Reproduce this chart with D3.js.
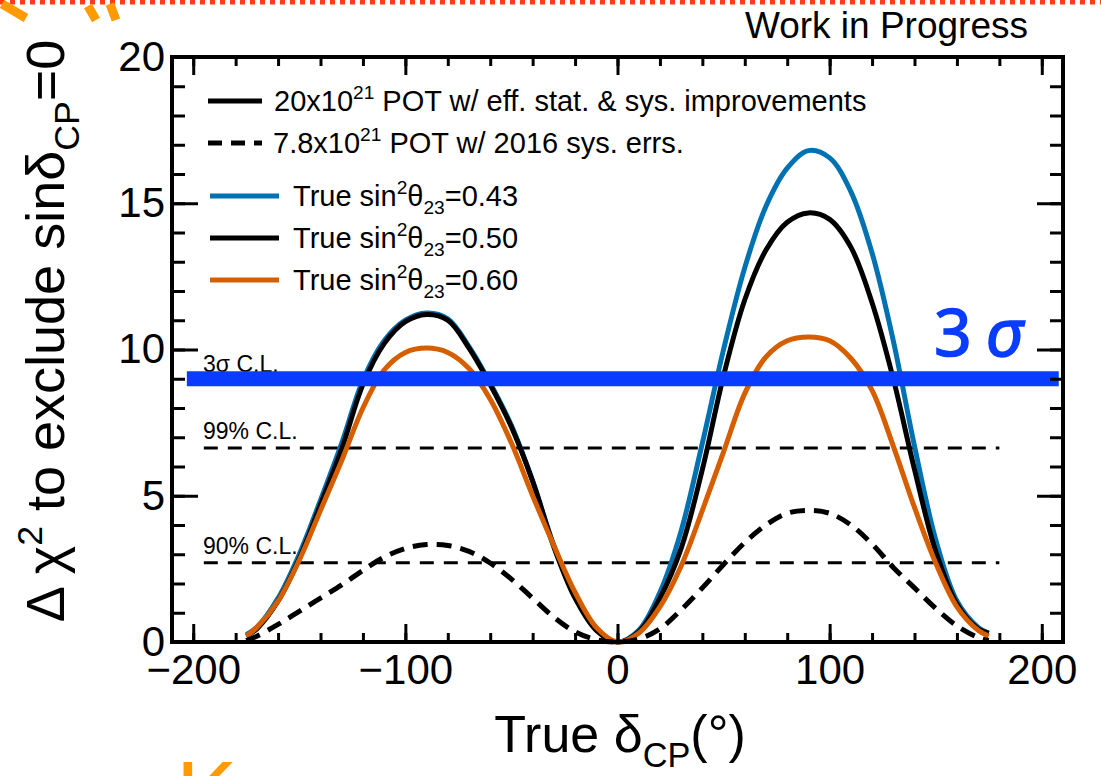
<!DOCTYPE html>
<html>
<head>
<meta charset="utf-8">
<script src="https://cdn.jsdelivr.net/npm/d3@7"></script>
<style>
  body { margin: 0; background: #fff; }
  svg { display: block; font-family: "Liberation Sans", Arial, Helvetica, sans-serif; }
</style>
</head>
<body>
<div id="chart"></div>
<script>
  var svgWidth = 1101;
  var svgHeight = 776;

  var deltaCP = [-175, -170, -160, -150, -140, -130, -120, -110, -100, -90, -80, -70, -60, -50, -40, -30, -20, -10,
    0, 10, 20, 30, 40, 50, 60, 70, 80, 90, 100, 110, 120, 130, 140, 150, 160, 170, 175];

  // 20x10^21 POT w/ improvements
  var chi2_043 = [0.25, 0.5, 1.5, 3.0, 4.85, 6.8, 8.95, 10.3, 11.0, 11.25, 11.05, 10.1, 8.85, 7.4, 5.5, 3.3, 1.55, 0.45,
    0, 0.4, 1.7, 3.8, 6.8, 10.0, 12.8, 14.9, 16.2, 16.8, 16.55, 15.4, 13.3, 10.3, 6.7, 3.5, 1.4, 0.5, 0.3];
  var chi2_050 = [0.2, 0.45, 1.4, 2.85, 4.7, 6.6, 8.8, 10.2, 10.95, 11.2, 11.0, 10.05, 8.8, 7.35, 5.5, 3.25, 1.5, 0.4,
    0, 0.35, 1.5, 3.2, 5.9, 9.1, 11.7, 13.4, 14.35, 14.67, 14.45, 13.5, 11.6, 9.0, 5.9, 3.1, 1.3, 0.45, 0.3];
  var chi2_060 = [0.2, 0.5, 1.4, 2.8, 4.5, 6.2, 8.0, 9.3, 9.9, 10.05, 9.9, 9.35, 8.3, 6.8, 5.0, 3.3, 1.7, 0.5,
    0, 0.3, 1.2, 2.6, 4.5, 6.5, 8.5, 9.75, 10.3, 10.43, 10.3, 9.7, 8.6, 6.7, 4.6, 2.7, 1.2, 0.4, 0.2];
  // 7.8x10^21 POT w/ 2016 sys. errs.
  var chi2_2016 = [0.05, 0.2, 0.6, 1.05, 1.5, 1.95, 2.45, 2.9, 3.2, 3.33, 3.3, 3.1, 2.7, 2.15, 1.5, 0.85, 0.35, 0.08,
    0, 0.1, 0.45, 1.1, 1.85, 2.65, 3.4, 4.0, 4.4, 4.5, 4.4, 4.0, 3.35, 2.55, 1.85, 1.15, 0.55, 0.15, 0.05];

  // confidence level lines
  var clNames = ["3σ C.L.", "99% C.L.", "90% C.L."];
  var clValues = [9.0, 6.63, 2.71];
  var clRange = [-195, 180];
  var bandRange = [-203, 208];

  var xMajor = [-200, -100, 0, 100, 200];
  var xMinor = d3.range(-200, 201, 20);
  var yMajor = [0, 5, 10, 15, 20];
  var yMinor = d3.range(0, 21, 1);

  var svg = d3.select("#chart").append("svg")
    .attr("width", svgWidth)
    .attr("height", svgHeight);

  var x = d3.scaleLinear().domain([-210, 210]).range([172, 1063]);
  var y = d3.scaleLinear().domain([0, 20]).range([642, 57]);

  // slide decorations
  svg.append("line")
    .attr("x1", 0).attr("x2", svgWidth).attr("y1", 2).attr("y2", 2)
    .attr("stroke", "#ff3b1a").attr("stroke-width", 5).attr("stroke-dasharray", "5,5");
  svg.append("path").attr("d", "M2,4 L26,18").attr("stroke", "#ff9a00").attr("stroke-width", 9).attr("fill", "none");
  svg.append("path").attr("d", "M88,6 L96,20 M110,4 L116,20").attr("stroke", "#ff9a00").attr("stroke-width", 9).attr("fill", "none");
  svg.append("text").attr("x", 176).attr("y", 826).attr("font-size", 92).attr("fill", "#ff9a00").text("K");

  // rich text helper: parts = [[text, "sup"|"sub"|""], ...]
  function richText(sel, parts, size) {
    var shift = 0;
    parts.forEach(function(p) {
      var target = p[1] === "sup" ? -0.4 * size : (p[1] === "sub" ? 0.28 * size : 0);
      var ts = sel.append("tspan").attr("dy", target - shift).text(p[0]);
      if (p[1]) ts.attr("font-size", size * 0.66);
      shift = target;
    });
    return sel;
  }

  svg.append("text")
    .attr("x", 1028).attr("y", 38)
    .attr("text-anchor", "end")
    .attr("font-size", 37)
    .text("Work in Progress");

  // C.L. dashed lines and labels
  clValues.forEach(function(v, i) {
    if (i > 0) {
      svg.append("line")
        .attr("x1", x(clRange[0])).attr("x2", x(clRange[1]))
        .attr("y1", y(v)).attr("y2", y(v))
        .attr("stroke", "#000").attr("stroke-width", 3).attr("stroke-dasharray", "14,10");
    }
    svg.append("text")
      .attr("x", 203).attr("y", y(v) - (i === 0 ? 7 : 9))
      .attr("font-size", 23)
      .text(clNames[i]);
  });

  // curves
  var line = d3.line()
    .x(function(d) { return x(d[0]); })
    .y(function(d) { return y(d[1]); })
    .curve(d3.curveCatmullRom.alpha(0.5));

  var series = [
    { values: chi2_043, color: "#0072b2", dash: null },
    { values: chi2_050, color: "#000000", dash: null },
    { values: chi2_060, color: "#d55e00", dash: null },
    { values: chi2_2016, color: "#000000", dash: "15,9" }
  ];

  series.forEach(function(s) {
    svg.append("path")
      .datum(d3.zip(deltaCP, s.values))
      .attr("d", line)
      .attr("fill", "none")
      .attr("stroke", s.color)
      .attr("stroke-width", 5)
      .attr("stroke-dasharray", s.dash);
  });

  // 3 sigma band
  svg.append("line")
    .attr("x1", x(bandRange[0])).attr("x2", x(bandRange[1]))
    .attr("y1", y(clValues[0])).attr("y2", y(clValues[0]))
    .attr("stroke", "#0a3cff").attr("stroke-width", 15);

  var sig = svg.append("text")
    .attr("x", 934).attr("y", 356)
    .attr("font-family", "'Noto Sans', sans-serif")
    .attr("font-size", 66)
    .attr("fill", "#0a3cff")
    .attr("stroke", "#0a3cff")
    .attr("stroke-width", 1.5);
  sig.append("tspan").text("3");
  sig.append("tspan").attr("dx", 14).attr("font-style", "italic").text("σ");

  // axes (ticks inside, on all four sides)
  function styleAxis(g) {
    g.select(".domain").remove();
    g.selectAll(".tick line").attr("stroke", "#000").attr("stroke-width", 3);
    g.selectAll(".tick text").attr("font-size", 42).attr("fill", "#000")
      .attr("font-family", "'Liberation Sans', Arial, sans-serif");
  }

  svg.append("g").attr("transform", "translate(0," + y(0) + ")")
    .call(d3.axisBottom(x).tickValues(xMinor).tickSize(-9).tickFormat("")).call(styleAxis);
  svg.append("g").attr("transform", "translate(0," + y(0) + ")")
    .call(d3.axisBottom(x).tickValues(xMajor).tickSize(-18).tickPadding(12).tickFormat(d3.format("d"))).call(styleAxis);
  svg.append("g").attr("transform", "translate(0," + y(20) + ")")
    .call(d3.axisTop(x).tickValues(xMinor).tickSize(-9).tickFormat("")).call(styleAxis);
  svg.append("g").attr("transform", "translate(0," + y(20) + ")")
    .call(d3.axisTop(x).tickValues(xMajor).tickSize(-18).tickFormat("")).call(styleAxis);

  svg.append("g").attr("transform", "translate(" + x(-210) + ",0)")
    .call(d3.axisLeft(y).tickValues(yMinor).tickSize(-13).tickFormat("")).call(styleAxis);
  svg.append("g").attr("transform", "translate(" + x(-210) + ",0)")
    .call(d3.axisLeft(y).tickValues(yMajor).tickSize(-26).tickPadding(7).tickFormat(d3.format("d"))).call(styleAxis);
  svg.append("g").attr("transform", "translate(" + x(210) + ",0)")
    .call(d3.axisRight(y).tickValues(yMinor).tickSize(-13).tickFormat("")).call(styleAxis);
  svg.append("g").attr("transform", "translate(" + x(210) + ",0)")
    .call(d3.axisRight(y).tickValues(yMajor).tickSize(-26).tickFormat("")).call(styleAxis);

  // frame
  svg.append("rect")
    .attr("x", x(-210)).attr("y", y(20))
    .attr("width", x(210) - x(-210)).attr("height", y(0) - y(20))
    .attr("fill", "none").attr("stroke", "#000").attr("stroke-width", 4);

  // axis titles
  richText(svg.append("text")
    .attr("x", 620).attr("y", 752)
    .attr("text-anchor", "middle")
    .attr("font-size", 52),
    [["True δ", ""], ["CP", "sub"], ["(°)", ""]], 52);

  richText(svg.append("text")
    .attr("transform", "translate(64,331) rotate(-90)")
    .attr("text-anchor", "middle")
    .attr("font-size", 54),
    [["Δ χ", ""], ["2", "sup"], [" to exclude sinδ", ""], ["CP", "sub"], ["=0", ""]], 54);

  // legend
  var legendLabels = [
    [["20x10", ""], ["21", "sup"], [" POT w/ eff. stat. & sys. improvements", ""]],
    [["7.8x10", ""], ["21", "sup"], [" POT w/ 2016 sys. errs.", ""]],
    [["True sin", ""], ["2", "sup"], ["θ", ""], ["23", "sub"], ["=0.43", ""]],
    [["True sin", ""], ["2", "sup"], ["θ", ""], ["23", "sub"], ["=0.50", ""]],
    [["True sin", ""], ["2", "sup"], ["θ", ""], ["23", "sub"], ["=0.60", ""]]
  ];
  var legendStyle = [
    { color: "#000", dash: null, x0: 208, x1: 262, tx: 274, y: 101 },
    { color: "#000", dash: "14,9", x0: 208, x1: 262, tx: 273, y: 143 },
    { color: "#0072b2", dash: null, x0: 210, x1: 279, tx: 293, y: 196 },
    { color: "#000", dash: null, x0: 210, x1: 279, tx: 293, y: 238 },
    { color: "#d55e00", dash: null, x0: 210, x1: 279, tx: 293, y: 280 }
  ];
  legendLabels.forEach(function(lab, i) {
    var st = legendStyle[i];
    svg.append("line")
      .attr("x1", st.x0).attr("x2", st.x1).attr("y1", st.y).attr("y2", st.y)
      .attr("stroke", st.color).attr("stroke-width", 5).attr("stroke-dasharray", st.dash);
    richText(svg.append("text")
      .attr("x", st.tx).attr("y", st.y + 10)
      .attr("font-size", 29), lab, 29);
  });
</script>
</body>
</html>
